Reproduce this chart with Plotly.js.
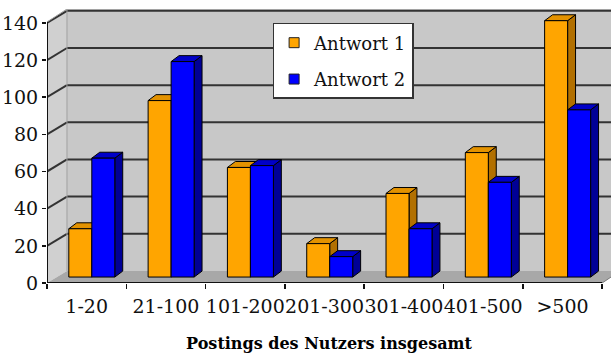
<!DOCTYPE html>
<html>
<head>
<meta charset="utf-8">
<script src="https://cdn.plot.ly/plotly-3.0.1.min.js"></script>
<style>html,body{margin:0;padding:0;background:#fff;}#chart{width:611px;height:353px;}</style>
</head>
<body>
<div id="chart"></div>
<script>
// ---- data ----
const categories = ['1-20', '21-100', '101-200', '201-300', '301-400', '401-500', '>500'];
const antwort1 = [26, 95, 59, 18, 45, 67, 138];
const antwort2 = [64, 116, 60, 11, 26, 51, 90];
const seriesNames = ['Antwort 1', 'Antwort 2'];
const yTicks = [0, 20, 40, 60, 80, 100, 120, 140];

// ---- 3D styling constants ----
const BASE = 3.2;      // front-plane floor offset (value units)
const DX = 0.1;        // depth offset in category units
const DY = 3.2;        // depth offset in value units
const WALL = 6.5;      // back wall offset in value units
const XL = -0.5, XB = -0.248, XR = 6.612, YTOP = 147.5;
const FONT = 'DejaVu Serif, Liberation Serif, serif';

const styles = [
  {front: '#FFA500', top: '#E39200', side: '#B27000', x0: -0.225, x1: 0.065},
  {front: '#0000FF', top: '#0000C8', side: '#000096', x0: 0.065, x1: 0.355}
];

function faces(values, st) {
  const f = {front: {x: [], y: []}, top: {x: [], y: []}, side: {x: [], y: []}};
  values.forEach((v, i) => {
    const l = i + st.x0, r = i + st.x1, t = BASE + v;
    f.front.x.push(l, r, r, l, l, null); f.front.y.push(BASE, BASE, t, t, BASE, null);
    f.top.x.push(l, r, r + DX, l + DX, l, null); f.top.y.push(t, t, t + DY, t + DY, t, null);
    f.side.x.push(r, r + DX, r + DX, r, r, null); f.side.y.push(BASE, BASE + DY, t + DY, t, BASE, null);
  });
  return f;
}

const traces = [];
[antwort1, antwort2].forEach((vals, k) => {
  const st = styles[k];
  const f = faces(vals, st);
  ['side', 'top', 'front'].forEach(name => {
    traces.push({
      type: 'scatter', mode: 'lines', fill: 'toself',
      x: f[name].x, y: f[name].y,
      fillcolor: st[name], line: {color: '#000', width: 1},
      showlegend: false, hoverinfo: 'skip'
    });
  });
});
// legend entries
seriesNames.forEach((n, k) => {
  traces.push({
    type: 'scatter', mode: 'markers', x: [null], y: [null], name: n,
    legendgroup: 'g' + k,
    marker: {symbol: 'square', size: 10, color: styles[k].front, line: {color: '#222', width: 1}}
  });
});

// ---- decorative walls ----
const shapes = [
  {type: 'path', layer: 'below', xref: 'x', yref: 'y',
   path: `M ${XL},0 L ${XL},140.5 L ${XB},${YTOP} L ${XB},${WALL} Z`,
   fillcolor: '#d0d0d0', line: {width: 0}},
  {type: 'rect', layer: 'below', xref: 'x', yref: 'y', x0: XB, x1: XR, y0: WALL, y1: YTOP,
   fillcolor: '#c8c8c8', line: {width: 0}},
  {type: 'path', layer: 'below', xref: 'x', yref: 'y',
   path: `M ${XL},0 L 6.5,0 L ${XR},${BASE} L ${XR},${WALL} L ${XB},${WALL} Z`,
   fillcolor: '#a8a8a8', line: {width: 0}}
];
yTicks.filter(g => g > 0).forEach(g => {
  shapes.push({type: 'line', layer: 'below', xref: 'x', yref: 'y', x0: XB, x1: XR, y0: g + WALL, y1: g + WALL,
               line: {color: '#333', width: 2}});
  shapes.push({type: 'line', layer: 'below', xref: 'x', yref: 'y', x0: XL, x1: XB, y0: g, y1: g + WALL,
               line: {color: '#333', width: 2}});
});
shapes.push(
  {type: 'line', layer: 'below', xref: 'x', yref: 'y', x0: XB, x1: XB, y0: WALL, y1: YTOP, line: {color: '#a0a0a0', width: 1}},
  {type: 'line', layer: 'below', xref: 'x', yref: 'y', x0: XL, x1: XB, y0: 140.5, y1: YTOP, line: {color: '#a0a0a0', width: 1}},
  {type: 'line', layer: 'above', xref: 'x', yref: 'y', x0: XL, x1: XL, y0: 0, y1: 140.5, line: {color: '#111', width: 2}},
  {type: 'line', layer: 'above', xref: 'x', yref: 'y', x0: XL, x1: 6.5, y0: 0, y1: 0, line: {color: '#111', width: 2}},
  {type: 'line', layer: 'below', xref: 'x', yref: 'y', x0: 6.5, x1: XR, y0: 0, y1: BASE, line: {color: '#777', width: 1}}
);

const layout = {
  width: 611, height: 353,
  margin: {l: 47, r: 0, t: 9, b: 70},
  paper_bgcolor: '#fff', plot_bgcolor: 'rgba(0,0,0,0)',
  showlegend: true,
  legend: {
    x: 0.40, y: 0.949, xanchor: 'left', yanchor: 'top',
    bgcolor: '#fff', bordercolor: '#333', borderwidth: 1.5,
    font: {family: FONT, size: 18, color: '#111'},
    traceorder: 'grouped', tracegroupgap: 10
  },
  xaxis: {
    range: [XL, XR], showgrid: false, zeroline: false, showline: false,
    tickmode: 'array', tickvals: categories.map((c, i) => i), ticktext: categories,
    tickangle: 0,
    ticks: 'outside', ticklen: 0, ticklabelstandoff: 6,
    tickfont: {family: FONT, size: 19, color: '#111'},
    minor: {tickmode: 'array', tickvals: categories.map((c, i) => i - 0.5).concat([categories.length - 0.5]),
            ticks: 'outside', ticklen: 5, tickwidth: 1.5, tickcolor: '#111', showgrid: false},
    title: {text: 'Postings des Nutzers insgesamt', standoff: 23,
            font: {family: FONT, size: 16, weight: 'bold', color: '#000'}},
    fixedrange: true
  },
  yaxis: {
    range: [0, YTOP], showgrid: false, zeroline: false, showline: false,
    tickmode: 'array', tickvals: yTicks,
    ticks: 'outside', ticklen: 4, tickwidth: 1.5, tickcolor: '#111',
    tickfont: {family: FONT, size: 19, color: '#111'},
    fixedrange: true
  },
  shapes: shapes
};

Plotly.newPlot('chart', traces, layout, {displayModeBar: false, staticPlot: true});
</script>
</body>
</html>
